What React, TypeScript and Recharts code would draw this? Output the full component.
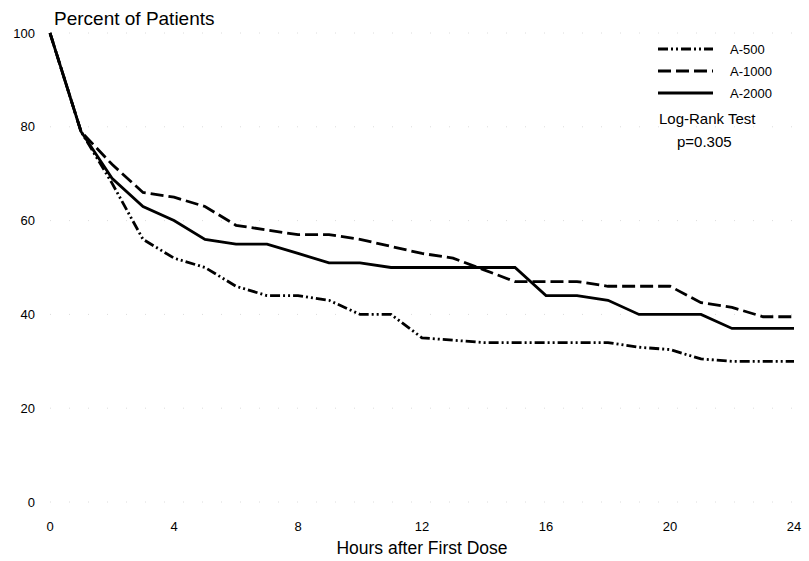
import React from 'react';
import { LineChart, Line, XAxis, YAxis, CartesianGrid, Legend } from 'recharts';

const hours = [0, 1, 2, 3, 4, 5, 6, 7, 8, 9, 10, 11, 12, 13, 14, 15, 16, 17, 18, 19, 20, 21, 22, 23, 24];
const a500 = [100, 79, 68, 56, 52, 50, 46, 44, 44, 43, 40, 40, 35, 34.5, 34, 34, 34, 34, 34, 33, 32.5, 30.5, 30, 30, 30];
const a1000 = [100, 79, 72, 66, 65, 63, 59, 58, 57, 57, 56, 54.5, 53, 52, 49.5, 47, 47, 47, 46, 46, 46, 42.5, 41.5, 39.5, 39.5];
const a2000 = [100, 79, 69, 63, 60, 56, 55, 55, 53, 51, 51, 50, 50, 50, 50, 50, 44, 44, 43, 40, 40, 40, 37, 37, 37];

const xTicks = [0, 4, 8, 12, 16, 20, 24];
const yTicks = [0, 20, 40, 60, 80, 100];

const seriesNames = ['A-500', 'A-1000', 'A-2000'];
const seriesKeys = ['a500', 'a1000', 'a2000'];
const seriesDash = ['10 3 2 3 2 3', '13 5', undefined];

const data = hours.map((h, i) => ({ h, a500: a500[i], a1000: a1000[i], a2000: a2000[i] }));

const FONT = '"Liberation Sans", Arial, sans-serif';

const LegendBox = () => (
  <svg width={160} height={125} style={{ display: 'block', fontFamily: FONT }}>
    {seriesNames.map((n, i) => (
      <g key={n}>
        <line x1={8} x2={63} y1={14 + i * 22} y2={14 + i * 22} stroke="#000" strokeWidth={3} strokeDasharray={seriesDash[i]} />
        <text x={80} y={19 + i * 22} fontSize={13} fill="#000">{n}</text>
      </g>
    ))}
    <text x={9} y={89} fontSize={15} fill="#000">Log-Rank Test</text>
    <text x={27} y={112} fontSize={15} fill="#000">p=0.305</text>
  </svg>
);

export default function App() {
  return (
    <div style={{ position: 'absolute', left: 0, top: 0, width: 809, height: 561, background: '#fff' }}>
      <LineChart width={809} height={561} data={data} margin={{ top: 33, right: 15, bottom: 29, left: 0 }} style={{ fontFamily: FONT }}>
        <CartesianGrid vertical={false} stroke="#dcdcdc" strokeDasharray="1 18" />
        <XAxis
          dataKey="h"
          type="number"
          domain={[0, 24]}
          ticks={xTicks}
          axisLine={false}
          tickLine={false}
          tickMargin={14}
          height={30}
          tick={{ fill: '#000', fontSize: 13 }}
          label={{ value: 'Hours after First Dose', position: 'bottom', offset: 10, fill: '#000', fontSize: 17.5 }}
        />
        <YAxis
          type="number"
          domain={[0, 100]}
          ticks={yTicks}
          axisLine={false}
          tickLine={false}
          tickMargin={9}
          width={50}
          tick={{ fill: '#000', fontSize: 13 }}
        />
        <Legend
          layout="horizontal"
          verticalAlign="middle"
          align="center"
          content={() => <LegendBox />}
          wrapperStyle={{ position: 'absolute', left: 650, top: 35, width: 160, height: 125 }}
        />
        {seriesKeys.map((k, i) => (
          <Line
            key={k}
            dataKey={k}
            name={seriesNames[i]}
            type="linear"
            stroke="#000"
            strokeWidth={2.8}
            strokeDasharray={seriesDash[i]}
            dot={false}
            isAnimationActive={false}
          />
        ))}
      </LineChart>
      <svg width={809} height={40} style={{ position: 'absolute', left: 0, top: 0, pointerEvents: 'none' }}>
        <text x={54} y={25} fontSize={19} fill="#000" fontFamily={FONT}>Percent of Patients</text>
      </svg>
    </div>
  );
}
